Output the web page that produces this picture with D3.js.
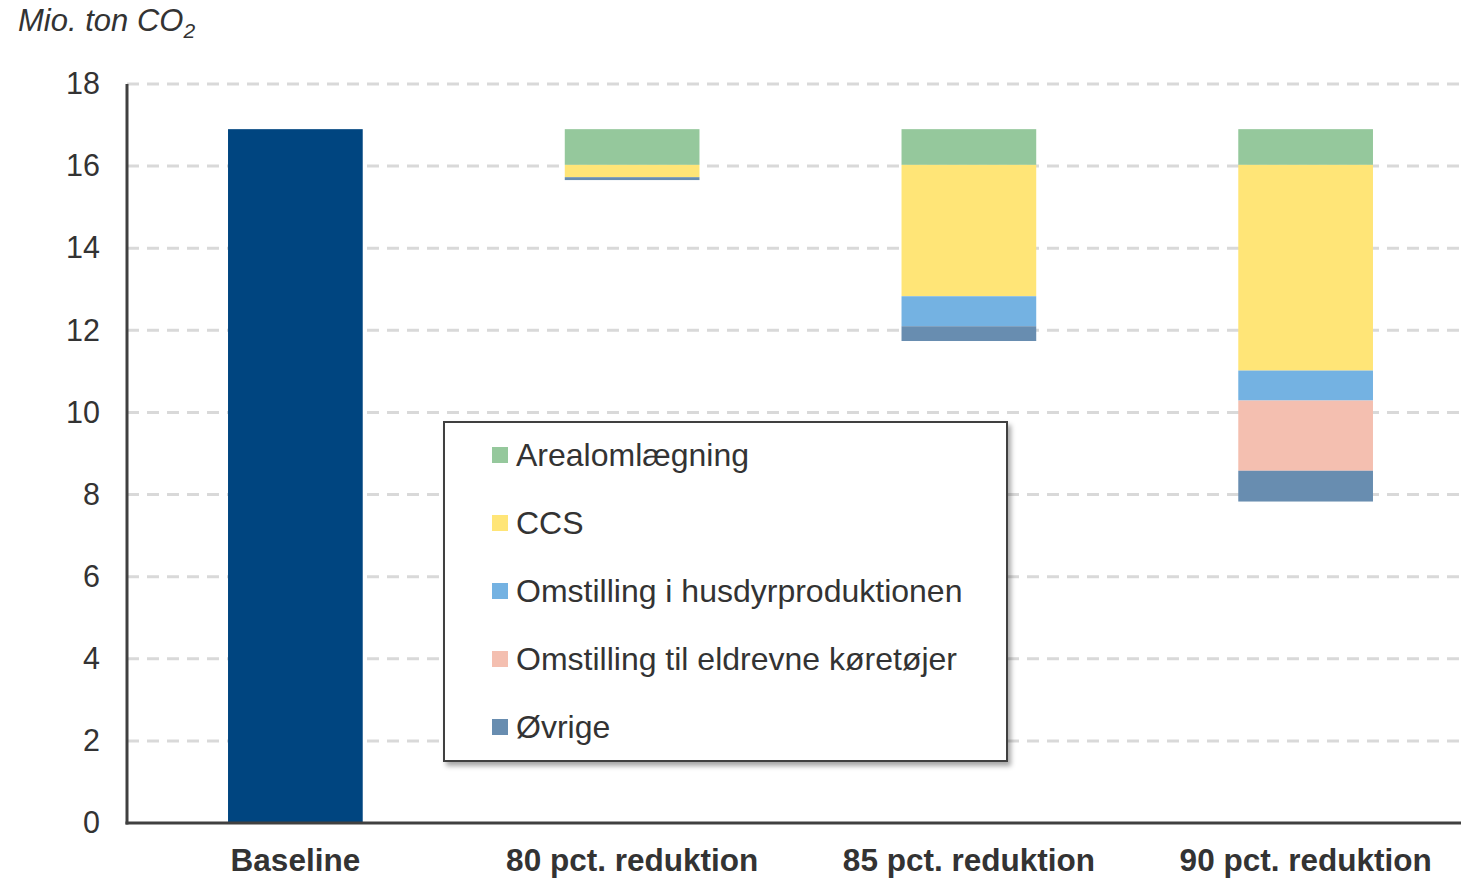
<!DOCTYPE html>
<html>
<head>
<meta charset="utf-8">
<script src="https://cdn.jsdelivr.net/npm/d3@7"></script>
<style>
  body { margin: 0; background: #fff; font-family: Arial, "Liberation Sans", sans-serif; }
  svg { display: block; }
</style>
</head>
<body>
<script>
// scenarios on the x axis
var categories = ["Baseline", "80 pct. reduktion", "85 pct. reduktion", "90 pct. reduktion"];
var baseline = 16.9;
// reductions per measure, from top of bar downwards
var seriesNames = ["Arealomlægning", "CCS", "Omstilling i husdyrproduktionen", "Omstilling til eldrevne køretøjer", "Øvrige"];
var seriesColors = ["#95c89c", "#ffe577", "#74b2e2", "#f4bfb0", "#688db0"];
var areal   = [0, 0.87, 0.87, 0.87];
var ccs     = [0, 0.30, 3.20, 5.01];
var husdyr  = [0, 0.00, 0.73, 0.73];
var elbiler = [0, 0.00, 0.00, 1.71];
var ovrige  = [0, 0.07, 0.36, 0.75];
var yTicks = [0, 2, 4, 6, 8, 10, 12, 14, 16, 18];

var W = 1461, H = 879;
var margin = {top: 84, right: -13, bottom: 56, left: 127};
var width = W - margin.left - margin.right,
    height = H - margin.top - margin.bottom;
var FONT = "Arial, 'Liberation Sans', sans-serif";

var svg = d3.select("body").append("svg")
    .attr("width", W).attr("height", H);

var defs = svg.append("defs");
var f = defs.append("filter").attr("id", "shadow").attr("x", "-5%").attr("y", "-5%").attr("width", "115%").attr("height", "115%");
f.append("feDropShadow").attr("dx", 3).attr("dy", 4).attr("stdDeviation", 2.5).attr("flood-color", "#000").attr("flood-opacity", 0.35);

var g = svg.append("g").attr("transform", "translate(" + margin.left + "," + margin.top + ")");

var x = d3.scaleBand().domain(categories).range([0, width]).paddingInner(0.6).paddingOuter(0.3);
var y = d3.scaleLinear().domain([0, 18]).range([height, 0]);

// grid
g.append("g").selectAll("line").data(yTicks.filter(function(d){ return d > 0; }))
  .enter().append("line")
  .attr("x1", 0).attr("x2", W - margin.left)
  .attr("y1", function(d){ return y(d); }).attr("y2", function(d){ return y(d); })
  .attr("stroke", "#d9d9d9").attr("stroke-width", 3)
  .attr("stroke-dasharray", "12,8");

// baseline bar
g.append("rect")
  .attr("x", x("Baseline")).attr("width", x.bandwidth())
  .attr("y", y(baseline)).attr("height", y(0) - y(baseline))
  .attr("fill", "#004580");

// floating stacked reductions
var seriesData = [areal, ccs, husdyr, elbiler, ovrige];
categories.forEach(function(c, i) {
  if (i === 0) return;
  var top = baseline;
  seriesData.forEach(function(s, k) {
    var v = s[i];
    if (v <= 0) return;
    g.append("rect")
      .attr("x", x(c)).attr("width", x.bandwidth())
      .attr("y", y(top)).attr("height", y(top - v) - y(top))
      .attr("fill", seriesColors[k]);
    top -= v;
  });
});

// axes
var yAxis = g.append("g").call(d3.axisLeft(y).tickValues(yTicks).tickSize(0).tickPadding(27));
yAxis.select(".domain").remove();
yAxis.selectAll("text").attr("font-size", 30.5).attr("fill", "#333").attr("font-family", FONT);

g.append("line").attr("x1", 0).attr("x2", 0).attr("y1", 0).attr("y2", height + 1.5)
  .attr("stroke", "#404040").attr("stroke-width", 3);
g.append("line").attr("x1", -1.5).attr("x2", W - margin.left).attr("y1", height).attr("y2", height)
  .attr("stroke", "#404040").attr("stroke-width", 3);

var xAxis = g.append("g").attr("transform", "translate(0," + height + ")")
  .call(d3.axisBottom(x).tickSize(0).tickPadding(26));
xAxis.select(".domain").remove();
xAxis.selectAll("text").attr("font-size", 31.5).attr("font-weight", "bold").attr("fill", "#333")
  .attr("font-family", FONT);

// unit title
var t = svg.append("text").attr("x", 18).attr("y", 31).attr("font-size", 31)
  .attr("font-style", "italic").attr("fill", "#333").attr("font-family", FONT);
t.append("tspan").text("Mio. ton CO");
t.append("tspan").attr("font-size", 21).attr("dy", 7).text("2");

// legend
var lg = svg.append("g").attr("transform", "translate(444,422)");
lg.append("rect").attr("width", 563).attr("height", 339)
  .attr("fill", "#fff").attr("stroke", "#404040").attr("stroke-width", 2)
  .attr("filter", "url(#shadow)");
var item = lg.selectAll(".item").data(seriesNames).enter().append("g")
  .attr("transform", function(d, i){ return "translate(48," + (33 + i * 68) + ")"; });
item.append("rect").attr("x", 0).attr("y", -8).attr("width", 16).attr("height", 16)
  .attr("fill", function(d, i){ return seriesColors[i]; });
item.append("text").attr("x", 24).attr("y", 11).attr("font-size", 32).attr("fill", "#333")
  .attr("font-family", FONT)
  .text(function(d){ return d; });
</script>
</body>
</html>
